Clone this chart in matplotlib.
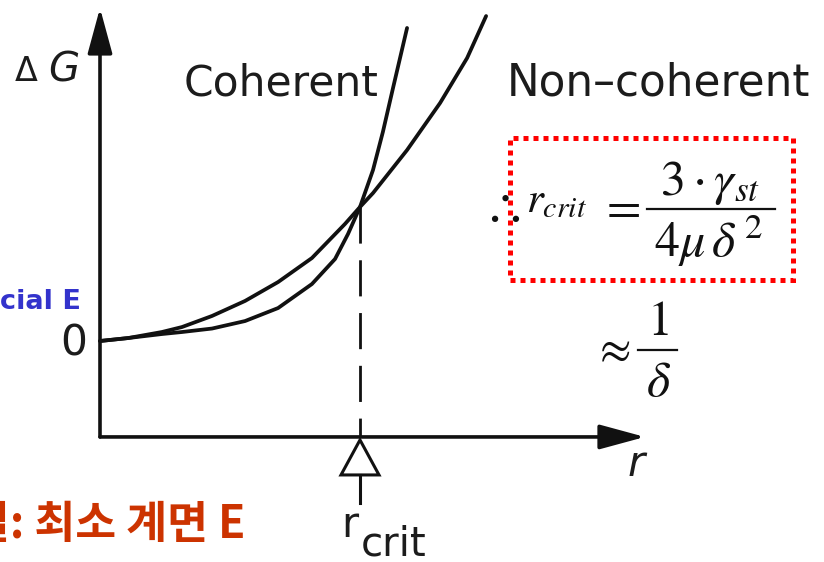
import matplotlib
matplotlib.use("Agg")
import matplotlib.pyplot as plt
from matplotlib.patches import Rectangle, Polygon

plt.rcParams["font.family"] = ["DejaVu Sans"]
plt.rcParams["mathtext.fontset"] = "stix"

W, H = 824, 562

# Free-energy curves, r in units of r_crit, dG in units of dG(r_crit)
r_noncoh = [0.0, 0.108, 0.238, 0.315, 0.431, 0.558, 0.685, 0.815, 0.942, 1.0,
            1.050, 1.181, 1.308, 1.412, 1.485]
g_noncoh = [0.0, 0.022, 0.067, 0.104, 0.187, 0.299, 0.440, 0.619, 0.873, 1.0,
            1.104, 1.425, 1.776, 2.112, 2.425]
r_coh = [0.0, 0.108, 0.238, 0.315, 0.431, 0.558, 0.685, 0.815, 0.904, 0.954, 1.0,
         1.050, 1.088, 1.127, 1.181]
g_coh = [0.0, 0.022, 0.052, 0.067, 0.093, 0.149, 0.246, 0.425, 0.612, 0.799, 1.0,
         1.276, 1.560, 1.888, 2.336]
r_crit = 1.0
g_crit = 1.0

# axis extents
g_axis = -0.716   # level of the r axis
g_top = 2.485     # tip of the dG arrow
r_end = 2.096     # tip of the r arrow

# pixel scale of the data units
SX, SY = 260.0, 134.0
X0, Y0 = 100.0, 341.0

fig = plt.figure(figsize=(W / 100, H / 100), dpi=100)
ax = fig.add_axes([0, 0, 1, 1])
ax.set_xlim(-X0 / SX, (W - X0) / SX)
ax.set_ylim((Y0 - H) / SY, Y0 / SY)
ax.axis("off")


def fp(x, y):
    """figure fraction from pixel position (origin top-left)"""
    return x / W, 1 - y / H


ink = "#111111"

# axes with arrowheads
arrow = dict(arrowstyle="-|>,head_length=1.4,head_width=0.38", color=ink, lw=2.6,
             mutation_scale=20, shrinkA=0, shrinkB=0)
ax.annotate("", xy=(0, g_top), xytext=(0, g_axis), arrowprops=arrow)
ax.annotate("", xy=(r_end, g_axis), xytext=(0, g_axis), arrowprops=arrow)

# curves
for rr, gg in [(r_coh, g_coh), (r_noncoh, g_noncoh)]:
    ax.plot(rr, gg, color=ink, lw=2.7, solid_capstyle="round", solid_joinstyle="round")

# dashed drop line at r_crit
dl, = ax.plot([r_crit, r_crit], [g_crit, g_axis], color=ink, lw=2.0)
dl.set_dashes([13, 6])

# hollow triangle marker and stem below the axis
tw, th = 19 / SX, 35 / SY
ga = g_axis - 3 / SY
ax.add_patch(Polygon([[r_crit, ga], [r_crit - tw, ga - th], [r_crit + tw, ga - th]],
                     closed=True, fill=False, ec=ink, lw=2.2, joinstyle="miter"))
ax.plot([r_crit, r_crit], [ga - th, ga - th - 28 / SY], color=ink, lw=2.2)

# diagram labels
tc = "#1c1c1c"
fig.text(*fp(26, 81), "Δ", ha="center", va="baseline", fontsize=24, color=tc)
fig.text(*fp(64, 82), "G", ha="center", va="baseline", fontsize=29, color=tc,
         style="italic")
fig.text(*fp(184, 95), "Coherent", ha="left", va="baseline", fontsize=30.5, color=tc)
fig.text(*fp(507, 96), "Non–coherent", ha="left", va="baseline", fontsize=31.5, color=tc)
fig.text(*fp(74, 356), "0", ha="center", va="baseline", fontsize=30.5, color=tc)
fig.text(*fp(636, 476), "r", ha="center", va="baseline", fontsize=30, color=tc,
         style="italic")
fig.text(*fp(350, 537), "r", ha="center", va="baseline", fontsize=30, color=tc)
fig.text(*fp(361, 556), "crit", ha="left", va="baseline", fontsize=29, color=tc)

# critical radius expression in a dotted frame
fig.add_artist(Rectangle(fp(510, 280), (793 - 510) / W, (280 - 138) / H,
                         transform=fig.transFigure, fill=False, ec="#ff0000", lw=3.6,
                         ls=(0, (1, 1)), capstyle="butt"))
mt = dict(color="#111111", fontsize=31)
big = dict(color="#111111", fontsize=36)
fig.text(*fp(501, 221), r"$\therefore$", ha="center", va="baseline", **big)
fig.text(*fp(526, 212), r"$r_{crit}$", ha="left", va="baseline", **mt)
fig.text(*fp(620, 221), r"$=$", ha="center", va="baseline", **big)
fig.text(*fp(710, 195), r"$3\cdot\gamma_{st}$", ha="center", va="baseline", **big)
fig.add_artist(plt.Line2D([647 / W, 775 / W], [1 - 209 / H] * 2, color="#111111", lw=1.6))
fig.text(*fp(708, 257), r"$4\mu\,\delta^{\,2}$", ha="center", va="baseline", **big)

fig.text(*fp(612, 362), r"$\approx$", ha="center", va="baseline", color="#111111",
         fontsize=33)
fig.text(*fp(658, 335), r"$1$", ha="center", va="baseline", **big)
fig.add_artist(plt.Line2D([638 / W, 677 / W], [1 - 350 / H] * 2, color="#111111", lw=1.6))
fig.text(*fp(659, 396), r"$\delta$", ha="center", va="baseline", **big)

# side notes
fig.text(*fp(0, 309), "cial E", ha="left", va="baseline", fontsize=19.5, color="#3333cc",
         fontweight="bold")
fig.text(*fp(-31, 538), "질: 최소 계면 E", ha="left", va="baseline", fontsize=32,
         color="#cc3300", fontweight="bold", family=["Noto Sans CJK KR", "DejaVu Sans"])

fig.savefig("out.png", dpi=100)
